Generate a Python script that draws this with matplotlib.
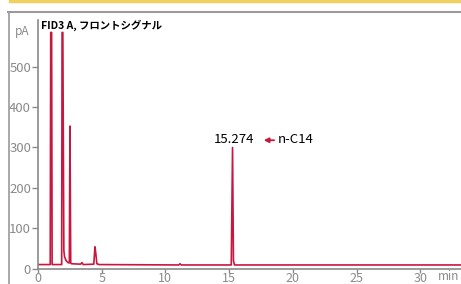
import matplotlib
matplotlib.use("Agg")
import matplotlib.pyplot as plt
from matplotlib.lines import Line2D

plt.rcParams['font.family'] = ['Noto Sans CJK JP', 'DejaVu Sans']

# trace vertices (min, pA)
times = [0.0, 0.96, 1.0, 1.07, 1.11, 1.86, 1.89, 1.95, 2.03, 2.08, 2.2, 2.35,
         2.46, 2.51, 2.57, 2.62, 3.35, 3.45, 3.55, 4.38, 4.47, 4.53, 4.62,
         4.8, 11.05, 11.15, 11.25, 15.17, 15.27, 15.34, 15.42, 33.2]
signal = [10, 10, 585, 585, 10, 10, 585, 585, 45, 30, 20, 15,
          14, 353, 14, 12, 11, 15, 10, 11, 54, 40, 12,
          10, 9, 12, 9, 9, 300, 20, 9, 9]

peak_rt = 15.274
peak_name = "n-C14"
title = "FID3 A, フロントシグナル"
xticks = [0, 5, 10, 15, 20, 25, 30]
yticks = [0, 100, 200, 300, 400, 500]

red = "#c8173f"
gray = "#8a8a8a"

fig = plt.figure(figsize=(4.61, 2.84), dpi=100)
ax = fig.add_axes([0.0824, 0.0528, 0.9176, 0.877])

ax.plot(times, signal, color=red, lw=1.2)
ax.set_xlim(0, 33.2)
ax.set_ylim(-1, 616)

for s in ['top', 'right']:
    ax.spines[s].set_visible(False)
for s in ['left', 'bottom']:
    ax.spines[s].set_color(gray)
    ax.spines[s].set_linewidth(1.2)

ax.set_xticks(xticks)
ax.set_yticks(yticks)
ax.tick_params(axis='both', colors=gray, labelsize=9.5, length=4, width=1, pad=1)
ax.tick_params(axis='x', length=3, pad=-0.5, labelsize=9)

# annotation of the n-C14 peak
ax.text(peak_rt + 0.08, 303, f"{peak_rt:.3f}", ha='center', va='bottom', fontsize=9.5, color='black')
ax.annotate("", xy=(17.5, 318), xytext=(18.75, 318),
            arrowprops=dict(arrowstyle='-|>', color=red, lw=1.3, mutation_scale=7))
ax.text(18.85, 303, peak_name, ha='left', va='bottom', fontsize=9.5, color='black')

ax.text(0.008, 1.0, title, transform=ax.transAxes, ha='left', va='top',
        fontsize=7.5, fontweight='bold', color='black')
fig.text(15 / 461, 1 - 31 / 284, "pA", ha='left', va='center', fontsize=8.5, color=gray)
fig.text(438 / 461, 1 - 276 / 284, "min", ha='left', va='center', fontsize=8.5, color=gray)

# frame lines around the panel
fig.add_artist(Line2D([10 / 461, 1], [1 - 1 / 284] * 2, transform=fig.transFigure,
                      color="#f0d060", lw=2.5))
fig.add_artist(Line2D([8 / 461, 1], [1 - 11.5 / 284] * 2, transform=fig.transFigure,
                      color="#9a9a9a", lw=1.5))
fig.add_artist(Line2D([8.5 / 461] * 2, [0, 1 - 11.5 / 284], transform=fig.transFigure,
                      color="#9a9a9a", lw=1.2))

fig.savefig("out.png", dpi=100)
